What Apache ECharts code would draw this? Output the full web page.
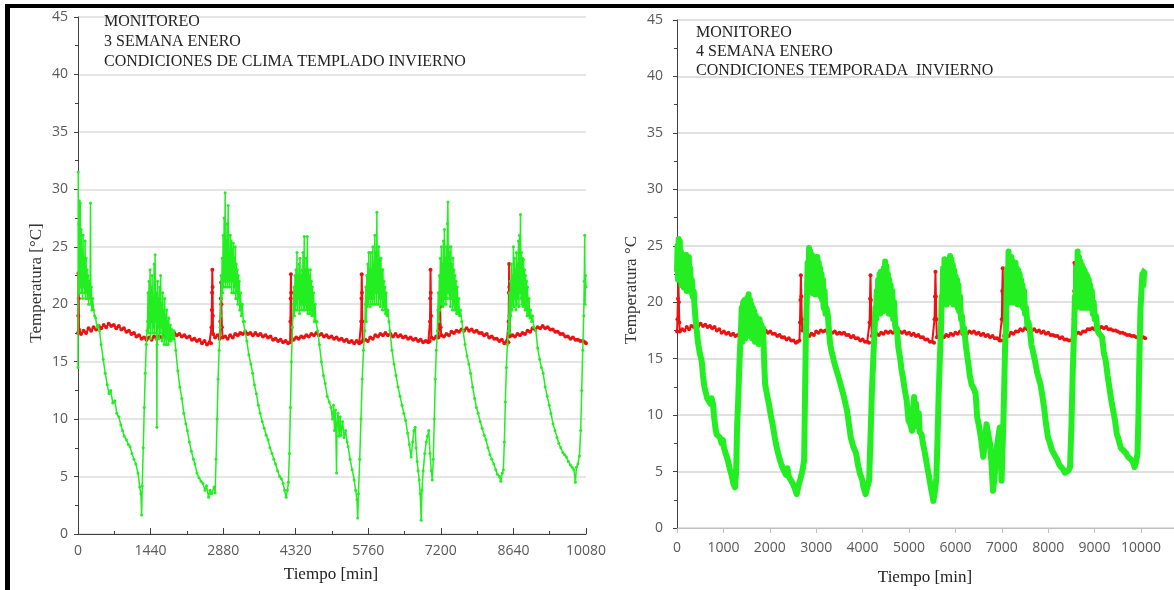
<!DOCTYPE html>
<html>
<head>
<meta charset="utf-8">
<script src="https://cdn.jsdelivr.net/npm/echarts@6/dist/echarts.min.js"></script>
<style>
html,body{margin:0;padding:0;background:#fff;}
#chart{width:1174px;height:590px;}
</style>
</head>
<body>
<div id="chart"></div>
<script>
// ---- Texts ----
const leftNote = ['MONITOREO', '3 SEMANA ENERO', 'CONDICIONES DE CLIMA TEMPLADO INVIERNO'];
const rightNote = ['MONITOREO', '4 SEMANA ENERO', 'CONDICIONES TEMPORADA  INVIERNO'];
const xNameText = 'Tiempo [min]';
const leftYName = 'Temperatura [°C]';
const rightYName = 'Temperatura °C';

// ---- Left panel: 3rd week of January (time in min, temperature in °C) ----
const leftGreen = [
[0,14.5],[5,31.5],[10,21],[15,27],[20,22.5],[25,29],[30,21],[35,25.5],[40,22],[45,28.8],[50,21.5],[55,24.5],[60,22],[65,26.5],[70,21],[80,23.5],[90,20.5],[100,26],[110,21.5],[120,24],[130,21],[140,25.5],[150,20.5],[160,24],[170,21],[180,23],[190,20.5],[200,22.5],[210,20],[220,22],[232,20.5],[240,21],[248,28.8],[256,20],[265,21.5],[275,19.5],[290,20.5],[310,19.5],[330,19],[350,18.8],[375,18],[400,18.2],[427,17.7],
[460,16.5],[500,15.2],[540,14],[580,13],[615,12.2],[650,12.5],[690,11.4],[730,11.6],[770,10.5],[810,10.2],[850,9.5],[883,9],[920,8.5],[960,8.2],[1000,7.8],[1033,7.6],[1070,7],[1110,6.5],[1148,6.1],[1190,5.3],[1224,4.1],[1248,3.5],[1262,1.65],[1275,4.2],[1295,7.5],[1315,11],[1335,14],[1355,16.5],[1370,17.7],
[1380,18.5],[1390,21],[1400,17.5],[1410,22],[1420,18],[1430,23],[1440,17],[1450,21.5],[1460,18.5],[1470,22.5],[1480,17.5],[1490,20.5],[1500,18],[1510,23.5],[1520,17.5],[1530,24.3],[1540,18.5],[1550,21],[1560,17],[1565,9.3],[1570,16.5],[1580,22],[1590,18],[1600,20.5],[1610,17],[1620,21.5],[1630,17.5],[1640,22.5],[1650,18],[1660,20],[1670,16.8],[1680,21],[1690,17.5],[1700,19.5],[1710,16.5],[1720,20.5],[1730,17],[1740,19],[1750,16.5],[1760,19.5],[1770,17],[1780,18.5],[1790,16.5],[1800,18.8],[1815,16.8],[1830,18.2],[1845,16.8],[1860,17.8],[1880,17],[1905,17.7],
[1940,16],[1980,14.2],[2020,12.8],[2060,11.8],[2100,10.5],[2140,9.6],[2170,9],[2210,8],[2250,7.2],[2290,6.5],[2320,6.1],[2360,5.3],[2400,4.9],[2440,4.6],[2480,4.4],[2520,3.8],[2550,4.2],[2590,3.2],[2620,3.8],[2650,3.5],[2700,4.1],[2720,3.6],[2740,6.5],[2760,10],[2780,13.5],[2800,16],[2820,18],
[2830,19],[2840,22.5],[2850,20.5],[2860,24],[2870,21],[2880,26],[2890,21.5],[2900,27.5],[2910,22],[2920,29.7],[2930,21.5],[2940,25.5],[2950,22],[2960,27],[2970,21.5],[2980,28.6],[2990,22],[3000,24.5],[3010,21.5],[3020,26],[3030,22],[3040,25.5],[3050,21],[3060,24.8],[3070,22],[3080,25.3],[3090,21],[3100,24],[3110,21.5],[3120,25],[3130,20.5],[3140,23.5],[3150,21],[3160,23],[3170,20],[3180,22.5],[3190,20.5],[3200,22],[3210,19.5],[3225,21],[3240,19],[3260,20],[3280,18.5],[3300,18.5],[3310,17.7],
[3350,16.8],[3390,15.6],[3430,14.8],[3465,14],[3500,13],[3540,12.2],[3580,11.2],[3615,10.5],[3655,9.8],[3695,9.2],[3735,8.6],[3770,8.2],[3810,7.5],[3850,7],[3885,6.5],[3920,6.1],[3960,5.5],[4000,5],[4035,4.8],[4070,4.4],[4100,3.8],[4130,3.2],[4155,3.8],[4175,4.5],[4195,7],[4215,11],[4235,15],[4255,18],
[4275,20],[4285,21.5],[4295,19],[4305,22.5],[4315,19.5],[4325,23],[4335,20],[4345,24.5],[4355,19.5],[4365,22.5],[4375,20.5],[4385,23.5],[4395,19.2],[4405,24],[4415,20],[4425,22.5],[4435,19.5],[4445,23],[4455,20],[4465,24.5],[4475,19.5],[4490,25.9],[4500,19.5],[4510,23],[4520,20],[4530,24],[4540,19.5],[4550,25.9],[4560,19.2],[4570,23],[4580,19.5],[4590,22.5],[4600,19.2],[4610,23],[4620,19.5],[4630,22],[4640,19],[4650,21.5],[4660,19],[4675,21],[4690,18.5],[4705,20],[4720,18.5],[4740,18.5],[4755,17.7],
[4790,16.5],[4830,15],[4870,13.8],[4905,13.1],[4945,12],[4985,11.5],[5020,11],[5050,10],[5070,11.2],[5090,9],[5110,10.8],[5130,5.3],[5140,9.5],[5160,10.5],[5180,8.5],[5200,10.2],[5220,8.6],[5250,9.8],[5280,8.4],[5310,9],[5340,8],[5360,7.6],[5400,6.5],[5440,5.6],[5480,4.7],[5510,3.8],[5535,3],[5550,1.4],[5565,3.5],[5590,6.5],[5615,10],[5640,13.5],[5665,16],[5690,17.7],
[5700,20],[5710,21.5],[5720,18.5],[5730,22.5],[5740,19.8],[5750,23.5],[5760,20],[5770,24.5],[5780,20.5],[5790,23],[5800,19.8],[5810,24.5],[5820,20.5],[5830,23],[5840,20],[5850,25],[5860,20.5],[5870,23.5],[5880,20],[5890,26],[5900,21],[5910,24.5],[5920,20],[5930,28],[5940,21],[5950,24.5],[5960,20],[5970,25],[5980,20.5],[5990,23.9],[6000,19.8],[6010,24],[6020,20.5],[6030,23],[6040,19.5],[6050,23],[6060,19.8],[6070,22],[6080,19.5],[6090,21.5],[6100,19.2],[6115,21],[6130,19],[6150,19.5],[6170,18.5],[6190,17.7],
[6230,16],[6270,14.8],[6310,13.8],[6350,12.8],[6390,12],[6430,11.2],[6465,10.5],[6500,9.9],[6540,8.8],[6575,7.8],[6610,6.7],[6640,8],[6665,9],[6690,9.3],[6710,7.5],[6730,6.3],[6750,5.5],[6770,4.7],[6790,3.5],[6810,1.2],[6825,3.8],[6850,5.5],[6880,7],[6910,8],[6935,8.5],[6960,9],[6985,7],[7010,5.5],[7030,4.7],[7050,6.5],[7070,10],[7090,13.5],[7110,16],[7130,17.7],
[7140,19.5],[7150,21],[7160,18.5],[7170,22.5],[7180,19.5],[7190,24],[7200,20],[7210,25],[7220,20.2],[7230,23.5],[7240,19.8],[7250,25.5],[7260,20],[7270,26.5],[7280,20.5],[7290,24],[7300,20],[7310,25],[7320,20.5],[7330,27],[7340,28.9],[7350,21],[7360,25],[7370,20.5],[7380,24.5],[7390,19.8],[7400,25],[7410,20.5],[7420,23.5],[7430,19.5],[7440,24],[7450,20],[7460,23],[7470,19.5],[7480,22.5],[7490,19.5],[7500,22],[7510,19.2],[7525,21.5],[7540,19.2],[7555,20.5],[7570,19],[7590,19.5],[7615,18.5],[7640,17.7],
[7680,16.5],[7720,15.5],[7755,14.8],[7790,14],[7830,12.8],[7870,11.8],[7905,11],[7940,10.5],[7980,9.8],[8020,9.2],[8060,8.6],[8095,8.2],[8135,7.5],[8175,6.9],[8210,6.5],[8250,6.1],[8290,5.6],[8320,5.2],[8360,5],[8390,4.6],[8420,5.3],[8440,5.6],[8460,8],[8480,11.5],[8500,14.5],[8520,16.5],[8540,17.7],
[8550,19],[8560,21],[8570,17.5],[8580,22],[8590,19],[8600,23.5],[8610,19.5],[8620,22.5],[8630,20],[8640,25],[8650,19.8],[8660,24],[8670,20.5],[8680,23],[8690,19.5],[8700,24.5],[8710,20],[8720,23.5],[8730,20.5],[8740,25.5],[8750,19.8],[8760,26],[8770,21],[8780,27.8],[8790,20.5],[8800,24.5],[8810,20],[8820,24],[8830,19.8],[8840,23.9],[8850,20],[8860,23],[8870,19.5],[8880,22.5],[8890,19.5],[8900,22],[8910,19],[8920,21.5],[8935,19],[8950,20.5],[8965,18.8],[8980,19.5],[9000,18.5],[9020,19],[9045,18],[9085,17.7],
[9120,16.2],[9160,15.2],[9195,14.5],[9230,14],[9270,12.8],[9310,12],[9350,11.2],[9385,10.5],[9425,9.6],[9465,9],[9505,8.4],[9540,7.9],[9580,7.5],[9620,7.1],[9655,6.9],[9690,6.7],[9730,6.3],[9770,6],[9805,5.8],[9840,5.6],[9870,4.5],[9890,5.8],[9920,6.1],[9950,6.8],[9975,9],[9995,12.5],[10015,16],[10035,19],[10045,22],[10055,26],[10062,20],[10070,22.5],[10080,21.5]
];

const leftRed = [
[0,17.5],[5,19],[10,22.7],[15,20.5],[20,17.8],[60,17.4],[110,17.7],[160,17.5],[210,17.9],[260,17.7],[310,18],[360,17.8],[410,18.1],[460,17.9],[510,18.2],[560,18],[610,18.3],[660,18.1],[710,18.2],[760,17.9],[810,18.1],[860,17.8],[910,17.9],[960,17.6],[1010,17.7],[1060,17.4],[1110,17.5],[1160,17.2],[1210,17.3],[1260,17],[1310,17.1],[1360,16.9],[1410,17.1],[1460,16.9],[1510,17.2],[1560,17],[1610,17.2],[1660,17.1],[1710,17.4],[1760,17.2],[1810,17.4],[1860,17.3],[1910,17.5],[1960,17.3],[2010,17.4],[2060,17.2],[2110,17.3],[2160,17.1],[2210,17.2],[2260,16.9],[2310,17],[2360,16.8],[2410,16.9],[2460,16.6],[2510,16.8],[2560,16.5],[2610,16.7],[2640,16.6],[2650,18],[2655,19.5],[2660,21],[2665,23],[2670,21.5],[2675,19],[2680,17.4],[2720,17.1],[2770,17.3],[2810,17],[2825,18.5],[2835,20.5],[2840,21.9],[2845,20],[2855,18],[2870,17.1],
[2920,17.2],[2970,17],[3020,17.3],[3070,17.1],[3120,17.4],[3170,17.3],[3220,17.5],[3270,17.4],[3320,17.6],[3370,17.4],[3420,17.5],[3470,17.3],[3520,17.5],[3570,17.3],[3620,17.4],[3670,17.2],[3720,17.3],[3770,17.1],[3820,17.2],[3870,16.9],[3920,17],[3970,16.8],[4020,16.9],[4070,16.7],[4120,16.8],[4170,16.6],[4210,16.7],[4215,18.5],[4220,20.5],[4225,22.6],[4230,21],[4235,18.8],[4240,17],[4280,16.9],[4330,17.1],[4380,17],[4430,17.2],[4480,17.1],[4530,17.3],[4580,17.2],[4630,17.4],[4680,17.3],[4730,17.5],[4780,17.3],[4830,17.4],[4880,17.2],[4930,17.3],[4980,17.1],[5030,17.2],[5080,17],[5130,17.1],[5180,16.9],[5230,17],[5280,16.8],[5330,16.9],[5380,16.7],[5430,16.8],[5480,16.6],[5530,16.8],[5580,16.6],[5615,16.7],[5620,18.5],[5625,20.5],[5630,22.6],[5635,21],[5640,18.5],[5650,16.8],[5700,16.9],[5750,16.8],[5800,17.1],[5850,17],[5900,17.3],[5950,17.2],[6000,17.4],[6050,17.3],[6100,17.5],[6150,17.3],[6200,17.4],[6250,17.2],[6300,17.4],[6350,17.2],[6400,17.3],[6450,17.1],[6500,17.2],[6550,17],[6600,17.1],[6650,16.9],[6700,17],[6750,16.8],[6800,16.9],[6850,16.7],[6900,16.8],[6950,16.7],[6980,16.8],[6985,18.5],[6990,20.5],[6995,23],[7000,21],[7005,19],[7010,17.1],[7060,17],[7110,17.2],[7150,17.1],[7170,18.2],[7185,19.8],[7195,18],[7210,17.3],[7260,17.2],[7310,17.4],[7360,17.3],[7410,17.6],[7460,17.5],[7510,17.7],[7560,17.6],[7610,17.8],[7660,17.7],[7710,17.9],[7760,17.7],[7810,17.8],[7860,17.6],[7910,17.7],[7960,17.5],[8010,17.5],[8060,17.3],[8110,17.4],[8160,17.1],[8210,17.2],[8260,17],[8310,17],[8360,16.8],[8410,16.9],[8460,16.6],[8510,16.8],[8540,16.7],[8545,18.5],[8550,21],[8555,23.5],[8560,21.5],[8565,19],[8570,17.2],[8620,17.3],[8670,17.2],[8720,17.4],[8770,17.3],[8820,17.5],[8870,17.4],[8920,17.7],[8970,17.6],[9020,17.9],[9070,17.8],[9120,18],[9170,17.9],[9220,18.1],[9270,17.9],[9320,18],[9370,17.8],[9420,17.8],[9470,17.6],[9520,17.6],[9570,17.4],[9620,17.4],[9670,17.2],[9720,17.2],[9770,17],[9820,17.1],[9870,16.9],[9920,16.9],[9970,16.8],[10020,16.8],[10060,16.7],[10080,16.6]
];

// ---- Right panel: 4th week of January ----
const rightGreen = [
[0,22.7],[12,25],[24,22],[36,25.6],[48,23],[60,25.4],[72,22.5],[84,24.5],[96,21.5],[108,24],[120,22],[135,23.5],[150,21.3],[165,23.8],[180,21.5],[195,24.2],[210,21],[225,23.5],[240,21.2],[255,24],[270,21],[285,23],[300,20.9],[320,22],[340,20.5],[360,21],[380,19.5],[400,18.5],[420,17.7],
[450,16.5],[490,15.5],[532,14.8],[560,13.5],[590,12.5],[614,12.1],[650,11.5],[690,11.6],[720,11],[745,11.5],[775,11],[800,9.8],[830,8.8],[853,8.3],[890,8.2],[928,8],[960,7.5],[990,7.8],[1012,7.1],[1050,6.6],[1095,6],[1140,5.2],[1180,4.6],[1215,3.9],[1250,3.6],[1275,5],[1295,8.9],[1320,11.5],[1340,13.9],[1360,16],[1380,17.7],
[1395,19.5],[1410,16.5],[1425,20],[1440,17],[1455,20.2],[1470,16.8],[1485,19.5],[1500,17.5],[1515,20.4],[1530,17.2],[1545,20.7],[1560,17.5],[1575,20.2],[1590,17],[1605,19.8],[1620,16.8],[1635,19.5],[1650,17],[1665,19.2],[1680,16.5],[1700,18.8],[1720,16.5],[1740,18.5],[1760,16.3],[1780,18.5],[1800,16.5],[1820,18],[1840,16.3],[1855,17.7],
[1880,14.5],[1900,12.7],[1940,11.8],[1980,11],[2020,10],[2060,9.2],[2100,8.2],[2135,7.4],[2180,6.6],[2220,6],[2260,5.5],[2300,5.1],[2350,4.7],[2380,5.3],[2415,4.5],[2460,4.2],[2500,3.9],[2540,3.5],[2580,3],[2620,3.8],[2650,4.2],[2700,5],[2740,6],[2760,12],[2780,17.7],
[2800,20.5],[2815,23.5],[2830,21],[2845,24.8],[2860,21.5],[2875,24.5],[2890,21],[2905,24.2],[2920,20.8],[2935,23.8],[2950,21.5],[2965,24],[2980,20.7],[2995,23.5],[3010,21],[3025,24],[3040,20.7],[3055,23.5],[3070,21],[3085,23],[3100,20.5],[3115,22.5],[3130,20.2],[3145,22],[3160,19.5],[3180,21],[3200,19],[3220,19.5],[3250,18.9],[3275,17.5],[3300,16.3],
[3340,15.5],[3380,14.8],[3420,14.2],[3465,13.6],[3520,12.8],[3580,11.9],[3620,11.2],[3665,10.4],[3705,9.2],[3745,8],[3800,7.2],[3860,6.6],[3900,5.6],[3945,4.8],[3990,4.3],[4020,3.6],[4065,3],[4100,3.6],[4140,4.2],[4170,8],[4200,12],[4230,15],[4260,17.7],
[4275,19.5],[4290,18.5],[4305,21],[4320,19],[4335,22],[4350,19.5],[4365,22.5],[4380,19],[4395,22.7],[4410,19.5],[4425,22.3],[4440,19.2],[4455,23],[4470,19.5],[4485,23.6],[4500,20],[4515,23.2],[4530,19.5],[4545,22.5],[4560,19],[4575,22],[4590,19.2],[4605,21.5],[4620,18.9],[4640,21],[4660,18.5],[4680,20],[4700,18],[4720,17.5],[4740,17.7],
[4770,16],[4810,15],[4840,14],[4870,13.3],[4910,12.2],[4950,11.3],[4990,9.5],[5030,9.2],[5065,8.6],[5090,10.5],[5110,11.6],[5130,10],[5150,11],[5170,9],[5190,8.9],[5210,10.2],[5230,8.5],[5270,8.3],[5300,7.5],[5345,6.6],[5390,5.5],[5430,4.6],[5470,3.6],[5500,3],[5525,2.4],[5550,3],[5575,3.8],[5590,4.5],[5615,8],[5640,12],[5665,15],[5690,17.7],
[5705,20.5],[5720,19.8],[5735,23],[5750,20],[5765,23.8],[5780,20.2],[5795,23.3],[5810,19.8],[5825,22.5],[5840,20],[5855,23.5],[5870,20.5],[5885,24.1],[5900,20.3],[5915,23.8],[5930,20],[5945,23.3],[5960,19.8],[5975,22.8],[5990,19.9],[6005,22.3],[6020,19.8],[6035,22],[6050,19.5],[6065,21.5],[6080,19.2],[6100,20.5],[6120,18.5],[6140,18.8],[6165,17.4],[6190,17.7],
[6230,16],[6270,14.8],[6310,13.5],[6350,12.7],[6390,12.4],[6435,11.9],[6470,9.8],[6510,9],[6550,8],[6600,6.3],[6635,7.5],[6670,9.2],[6700,8.5],[6750,7.4],[6780,5.5],[6810,3.3],[6845,4.5],[6875,6.6],[6915,7.8],[6955,8.9],[6995,4.2],[7035,9.5],[7055,13],[7070,16],[7090,17.7],
[7100,20.5],[7115,23],[7130,20],[7145,24.5],[7160,20.5],[7175,23.8],[7190,20],[7205,24],[7220,20.3],[7235,23.6],[7250,20],[7265,23.2],[7280,20.5],[7295,23.5],[7310,20],[7325,23],[7340,19.8],[7355,22.8],[7370,20],[7385,22.5],[7400,19.8],[7415,22],[7430,20],[7445,21.5],[7460,19.5],[7480,21],[7500,19],[7525,19.5],[7550,18],[7575,18.2],[7600,17.7],
[7640,16.2],[7680,15.5],[7715,14.8],[7760,13.8],[7800,13.2],[7835,12.7],[7870,11.8],[7910,10.7],[7950,9.3],[7995,8],[8040,7.5],[8080,6.9],[8120,6.8],[8160,6.3],[8200,6],[8240,5.6],[8280,5.4],[8320,5.2],[8360,4.9],[8400,4.8],[8440,5.1],[8470,5.4],[8500,9],[8530,14],[8560,17.7],
[8575,20.5],[8590,19.5],[8605,23],[8620,20],[8635,24.5],[8650,20.3],[8665,24],[8680,20],[8695,23.6],[8710,19.5],[8725,23.3],[8740,20.2],[8755,23],[8770,19.8],[8785,22.8],[8800,19.5],[8815,22.5],[8830,20],[8845,22.3],[8860,19.5],[8875,22],[8890,19.8],[8905,21.5],[8920,19.5],[8940,21],[8960,19],[8980,20],[9000,18.5],[9030,18.8],[9060,17.5],[9100,17.2],[9160,16.9],
[9200,15.5],[9240,14.8],[9280,13.5],[9320,12.4],[9360,11.3],[9400,10.4],[9440,9.5],[9480,8.3],[9520,7.8],[9565,7.1],[9600,7],[9640,6.8],[9680,6.6],[9720,6.3],[9760,6.2],[9800,6],[9830,5.8],[9860,5.4],[9890,5.8],[9925,6.6],[9945,10],[9960,14],[9975,17],[9990,19.5],[10010,21],[10030,22.5],[10050,21.5],[10070,22.8],[10090,22.9]
];

const rightRed = [
[0,17.4],[10,18.5],[20,20.3],[30,21.9],[40,20],[50,18.2],[60,17.4],[110,17.6],[160,17.5],[210,17.8],[260,17.6],[310,17.9],[360,17.8],[410,18],[460,17.9],[510,18.1],[560,17.9],[610,18],[660,17.8],[710,17.9],[760,17.7],[810,17.8],[860,17.5],[910,17.6],[960,17.3],[1010,17.4],[1060,17.2],[1110,17.3],[1160,17.1],[1210,17.2],[1260,17],[1310,17.1],[1360,17],[1410,17.2],[1460,17.1],[1510,17.3],[1560,17.2],[1610,17.4],[1660,17.3],[1710,17.5],[1760,17.4],[1810,17.6],[1860,17.4],[1910,17.5],[1960,17.3],[2010,17.4],[2060,17.2],[2110,17.2],[2160,17],[2210,17.1],[2260,16.9],[2310,16.9],[2360,16.7],[2410,16.8],[2460,16.6],[2510,16.6],[2560,16.4],[2600,16.5],[2640,16.6],[2650,18.2],[2660,20.2],[2670,22.4],[2680,20.5],[2690,18.5],[2700,17.5],[2740,17.6],[2775,17.3],[2780,19.5],[2790,21.6],[2800,19.5],[2810,17.2],[2850,17],[2900,17.2],[2950,17.1],[3000,17.4],[3050,17.3],[3100,17.5],[3150,17.4],[3200,17.5],[3250,17.3],[3300,17.4],[3350,17.3],[3400,17.4],[3450,17.2],[3500,17.3],[3550,17.2],[3600,17.3],[3650,17.1],[3700,17.1],[3750,16.9],[3800,17],[3850,16.8],[3900,16.8],[3950,16.6],[4000,16.7],[4050,16.5],[4100,16.5],[4140,16.4],[4150,18.2],[4160,20.3],[4170,22.4],[4180,20.2],[4190,18],[4200,17],[4250,17],[4300,17.2],[4350,17.1],[4400,17.3],[4450,17.2],[4500,17.4],[4550,17.3],[4600,17.4],[4650,17.3],[4700,17.5],[4750,17.3],[4800,17.4],[4850,17.3],[4900,17.4],[4950,17.2],[5000,17.3],[5050,17.1],[5100,17.2],[5150,17],[5200,17.1],[5250,16.9],[5300,16.9],[5350,16.7],[5400,16.7],[5450,16.5],[5500,16.5],[5540,16.4],[5550,18.5],[5560,20.5],[5570,22.7],[5580,20.5],[5590,18.5],[5600,16.9],[5650,16.9],[5700,17],[5750,16.9],[5800,17.1],[5850,17],[5900,17.2],[5950,17.1],[6000,17.3],[6050,17.2],[6100,17.4],[6150,17.2],[6200,17.3],[6250,17.2],[6300,17.4],[6350,17.3],[6400,17.4],[6450,17.2],[6500,17.3],[6550,17.1],[6600,17.2],[6650,17],[6700,17.1],[6750,16.9],[6800,17],[6850,16.8],[6900,16.8],[6950,16.6],[6990,16.6],[7000,18.5],[7010,21],[7020,23],[7030,20.8],[7040,18.5],[7050,17],[7100,17.1],[7150,17],[7200,17.3],[7250,17.2],[7300,17.4],[7350,17.4],[7400,17.6],[7450,17.5],[7500,17.7],[7550,17.6],[7600,17.7],[7650,17.5],[7700,17.6],[7750,17.4],[7800,17.5],[7850,17.3],[7900,17.4],[7950,17.2],[8000,17.3],[8050,17.1],[8100,17.1],[8150,17],[8200,17],[8250,16.8],[8300,16.9],[8350,16.7],[8400,16.7],[8450,16.6],[8500,16.6],[8540,16.6],[8550,18.5],[8560,21],[8565,23.5],[8575,21],[8585,18.8],[8600,17.2],[8650,17.3],[8700,17.2],[8750,17.4],[8800,17.4],[8850,17.6],[8900,17.6],[8950,17.7],[9000,17.6],[9050,17.8],[9100,17.7],[9150,17.8],[9200,17.7],[9250,17.8],[9300,17.6],[9350,17.6],[9400,17.5],[9450,17.5],[9500,17.4],[9550,17.3],[9600,17.3],[9650,17.2],[9700,17.1],[9750,17.1],[9800,17],[9850,17],[9900,16.9],[9950,16.9],[10000,16.8],[10050,16.9],[10090,16.8]
];

const GREEN = '#22ee22';
const RED = '#ee1111';
const labelFont = {fontFamily: 'Open Sans', fontSize: 14, color: '#595959'};
const plain = v => String(v);

const chart = echarts.init(document.getElementById('chart'), null, {renderer: 'canvas'});
chart.setOption({
  animation: false,
  backgroundColor: '#fff',
  grid: [
    {left: 78, top: 17, width: 508, height: 517, containLabel: false},
    {left: 677, top: 20, width: 497, height: 508, containLabel: false}
  ],
  xAxis: [
    {
      gridIndex: 0, type: 'value', min: 0, max: 10080, interval: 1440,
      axisLine: {show: true, onZero: false, lineStyle: {color: '#404040', width: 1}},
      axisTick: {show: true, inside: true, length: 6, lineStyle: {color: '#404040'}},
      minorTick: {show: true, splitNumber: 2, length: 3, lineStyle: {color: '#404040'}},
      splitLine: {show: false},
      axisLabel: Object.assign({margin: 10, formatter: plain}, labelFont)
    },
    {
      gridIndex: 1, type: 'value', min: 0, max: 10711, interval: 1000,
      axisLine: {show: true, onZero: false, lineStyle: {color: '#bfbfbf', width: 1}},
      axisTick: {show: true, inside: false, length: 5, lineStyle: {color: '#bfbfbf'}},
      splitLine: {show: false},
      axisLabel: Object.assign({margin: 13, showMaxLabel: false,
        formatter: v => (v % 1000 === 0 ? String(v) : '')}, labelFont)
    }
  ],
  yAxis: [
    {
      gridIndex: 0, type: 'value', min: 0, max: 45, interval: 5,
      axisLine: {show: true, lineStyle: {color: '#404040', width: 1}},
      axisTick: {show: true, inside: false, length: 4, lineStyle: {color: '#404040'}},
      minorTick: {show: true, splitNumber: 2, length: 3, lineStyle: {color: '#404040'}},
      splitLine: {show: true, lineStyle: {color: '#dcdcdc', width: 1.5}},
      axisLabel: Object.assign({margin: 10}, labelFont)
    },
    {
      gridIndex: 1, type: 'value', min: 0, max: 45, interval: 5,
      axisLine: {show: true, lineStyle: {color: '#404040', width: 1}},
      axisTick: {show: true, inside: false, length: 4, lineStyle: {color: '#404040'}},
      minorTick: {show: true, splitNumber: 2, length: 3, lineStyle: {color: '#404040'}},
      splitLine: {show: true, lineStyle: {color: '#d6d6d6', width: 1.5}},
      axisLabel: Object.assign({margin: 14}, labelFont)
    }
  ],
  series: [
    {type: 'line', xAxisIndex: 0, yAxisIndex: 0, data: leftRed, symbol: 'circle', symbolSize: 4,
     showAllSymbol: true, itemStyle: {color: RED}, lineStyle: {color: RED, width: 2}, z: 2},
    {type: 'line', xAxisIndex: 0, yAxisIndex: 0, data: leftGreen, symbol: 'circle', symbolSize: 3,
     showAllSymbol: true, itemStyle: {color: GREEN}, lineStyle: {color: GREEN, width: 1.5}, z: 3},
    {type: 'line', xAxisIndex: 1, yAxisIndex: 1, data: rightRed, symbol: 'circle', symbolSize: 4,
     showAllSymbol: true, itemStyle: {color: RED}, lineStyle: {color: RED, width: 2}, z: 2},
    {type: 'line', xAxisIndex: 1, yAxisIndex: 1, data: rightGreen, symbol: 'none',
     lineStyle: {color: GREEN, width: 6, join: 'round'}, z: 3}
  ],
  graphic: [
    {type: 'rect', shape: {x: 5, y: 4, width: 1169, height: 4}, style: {fill: '#000'}, z: 100},
    {type: 'rect', shape: {x: 5, y: 4, width: 5, height: 586}, style: {fill: '#000'}, z: 100},
    {type: 'text', left: 104, top: 12, z: 50,
     style: {text: leftNote.join('\n'), font: '16px "Liberation Serif"', lineHeight: 20, fill: '#222'}},
    {type: 'text', left: 696, top: 23, z: 50,
     style: {text: rightNote.join('\n'), font: '16px "Liberation Serif"', lineHeight: 19, fill: '#222'}},
    {type: 'text', x: 331, y: 575, z: 50,
     style: {text: xNameText, font: '17px "Liberation Serif"', fill: '#222', align: 'center', verticalAlign: 'middle'}},
    {type: 'text', x: 925, y: 578, z: 50,
     style: {text: xNameText, font: '17px "Liberation Serif"', fill: '#222', align: 'center', verticalAlign: 'middle'}},
    {type: 'text', x: 37, y: 283, rotation: Math.PI / 2, z: 50,
     style: {text: leftYName, font: '17px "Liberation Serif"', fill: '#333', align: 'center', verticalAlign: 'middle'}},
    {type: 'text', x: 632, y: 290, rotation: Math.PI / 2, z: 50,
     style: {text: rightYName, font: '17px "Liberation Serif"', fill: '#333', align: 'center', verticalAlign: 'middle'}}
  ]
});
</script>
</body>
</html>
